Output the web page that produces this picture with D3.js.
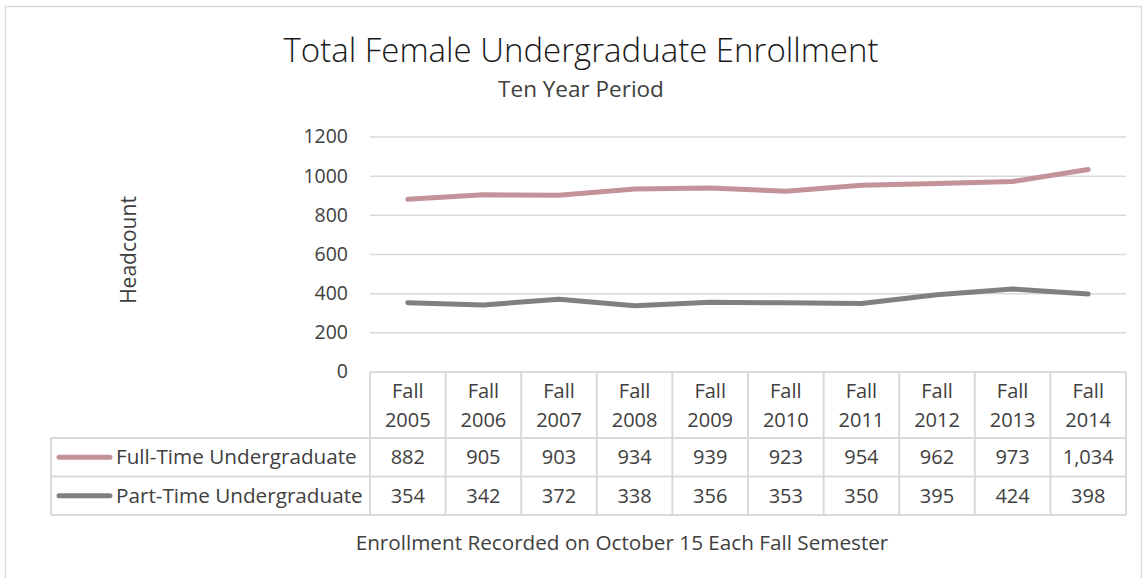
<!DOCTYPE html>
<html>
<head>
<meta charset="utf-8">
<script src="https://cdn.jsdelivr.net/npm/d3@7"></script>
<style>
  html, body { margin: 0; padding: 0; background: #fff; }
  svg text { font-family: "Open Sans", "Noto Sans", sans-serif; fill: #404040; }
</style>
</head>
<body>
<svg id="chart" width="1145" height="578"></svg>
<script>
// Enrollment data, fall semesters 2005–2014
const categories = ["Fall 2005", "Fall 2006", "Fall 2007", "Fall 2008", "Fall 2009",
                    "Fall 2010", "Fall 2011", "Fall 2012", "Fall 2013", "Fall 2014"];
const fullTime = [882, 905, 903, 934, 939, 923, 954, 962, 973, 1034];
const partTime = [354, 342, 372, 338, 356, 353, 350, 395, 424, 398];
const seriesNames = ["Full-Time Undergraduate", "Part-Time Undergraduate"];
const yTicks = [0, 200, 400, 600, 800, 1000, 1200];

const series = [
  { name: seriesNames[0], values: fullTime, color: "#c4929a" },
  { name: seriesNames[1], values: partTime, color: "#808080" }
];

const svg = d3.select("#chart");
const plot = { left: 370, right: 1126, top: 137, bottom: 372 };
const tableLeft = 51;
const headerBottom = 438;
const rowH = 38.5;
const gridColor = "#d9d9d9";

// Chart frame
svg.append("rect")
  .attr("x", 5.5).attr("y", 6.5).attr("width", 1136).attr("height", 575)
  .attr("fill", "none").attr("stroke", gridColor).attr("stroke-width", 1.5);

const x = d3.scaleBand().domain(categories).range([plot.left, plot.right]);
const y = d3.scaleLinear().domain([0, 1200]).range([plot.bottom, plot.top]);

// Horizontal gridlines
svg.append("g").selectAll("line")
  .data(yTicks.filter(d => d > 0))
  .join("line")
  .attr("x1", plot.left).attr("x2", plot.right)
  .attr("y1", d => y(d)).attr("y2", d => y(d))
  .attr("stroke", gridColor).attr("stroke-width", 1.5);

// Y axis tick labels
const yAxis = d3.axisLeft(y).tickValues(yTicks).tickSize(0).tickPadding(22)
  .tickFormat(d3.format("d"));
svg.append("g")
  .attr("transform", `translate(${plot.left},0)`)
  .call(yAxis)
  .call(g => g.select(".domain").remove())
  .call(g => g.selectAll("text")
    .attr("font-size", 19.5)
    .attr("font-family", "'Open Sans', sans-serif")
    .attr("fill", "#404040")
    .attr("dy", "0.3em"));

// Series lines
const line = d3.line()
  .x((d, i) => x(categories[i]) + x.bandwidth() / 2)
  .y(d => y(d));
svg.append("g").selectAll("path")
  .data(series)
  .join("path")
  .attr("d", d => line(d.values))
  .attr("fill", "none")
  .attr("stroke", d => d.color)
  .attr("stroke-width", 5)
  .attr("stroke-linecap", "round")
  .attr("stroke-linejoin", "round");

// Data table under the plot
const table = svg.append("g");
const tableBottom = headerBottom + rowH * series.length;

// header block (category cells)
table.append("line")
  .attr("x1", plot.left).attr("x2", plot.right)
  .attr("y1", plot.bottom).attr("y2", plot.bottom);
// row separators spanning the legend column too
[headerBottom, headerBottom + rowH, tableBottom].forEach(yy => {
  table.append("line")
    .attr("x1", tableLeft).attr("x2", plot.right)
    .attr("y1", yy).attr("y2", yy);
});
// vertical cell borders
categories.forEach(c => {
  table.append("line")
    .attr("x1", x(c)).attr("x2", x(c))
    .attr("y1", plot.bottom).attr("y2", tableBottom);
});
table.append("line")
  .attr("x1", plot.right).attr("x2", plot.right)
  .attr("y1", plot.bottom).attr("y2", tableBottom);
table.append("line")
  .attr("x1", tableLeft).attr("x2", tableLeft)
  .attr("y1", headerBottom).attr("y2", tableBottom);
table.selectAll("line").attr("stroke", gridColor).attr("stroke-width", 2);

// category headers, two lines each
categories.forEach(c => {
  const parts = c.split(" ");
  const t = table.append("text")
    .attr("text-anchor", "middle")
    .attr("font-size", 20);
  parts.forEach((p, k) => {
    t.append("tspan")
      .attr("x", x(c) + x.bandwidth() / 2)
      .attr("y", 398 + k * 29)
      .text(p);
  });
});

// value rows with legend keys
const fmt = d3.format(",");
series.forEach((s, r) => {
  const cy = headerBottom + rowH * r + rowH / 2;
  table.append("line")
    .attr("x1", 59).attr("x2", 110)
    .attr("y1", cy).attr("y2", cy)
    .attr("stroke", s.color).attr("stroke-width", 5)
    .attr("stroke-linecap", "round");
  table.append("text")
    .attr("x", 116).attr("y", cy + 7)
    .attr("font-size", 20.7)
    .text(s.name);
  s.values.forEach((v, i) => {
    table.append("text")
      .attr("x", x(categories[i]) + x.bandwidth() / 2)
      .attr("y", cy + 7)
      .attr("text-anchor", "middle")
      .attr("font-size", 20)
      .text(fmt(v));
  });
});

// Titles
svg.append("text")
  .attr("x", 581).attr("y", 62)
  .attr("text-anchor", "middle")
  .attr("font-size", 33).attr("font-weight", 300)
  .style("fill", "#1a1a1a")
  .text("Total Female Undergraduate Enrollment");
svg.append("text")
  .attr("x", 581).attr("y", 97)
  .attr("text-anchor", "middle")
  .attr("font-size", 22.5)
  .text("Ten Year Period");

// Axis titles
svg.append("text")
  .attr("transform", "translate(136,250) rotate(-90)")
  .attr("text-anchor", "middle")
  .attr("font-size", 21)
  .text("Headcount");
svg.append("text")
  .attr("x", 622).attr("y", 550)
  .attr("text-anchor", "middle")
  .attr("font-size", 20.7)
  .text("Enrollment Recorded on October 15 Each Fall Semester");
</script>
</body>
</html>
